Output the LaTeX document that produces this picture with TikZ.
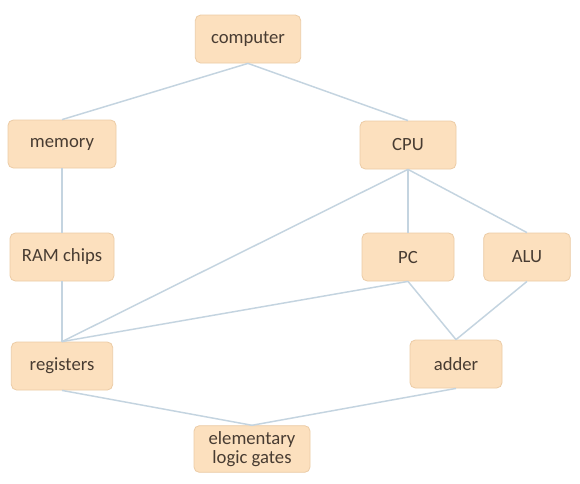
\documentclass[tikz,border=0pt]{standalone}
\usepackage{fontspec}
\setmainfont{Carlito}
\definecolor{boxfill}{RGB}{252,224,190}
\definecolor{boxline}{RGB}{236,204,166}
\definecolor{linkline}{RGB}{196,212,224}
\definecolor{boxtext}{RGB}{72,60,50}
\begin{document}
\begin{tikzpicture}[x=0.75pt,y=-0.75pt,
  part/.style={draw=boxline,fill=boxfill,rounded corners=4pt,line width=0.6pt,
    minimum height=36pt,inner sep=2pt,text=boxtext,align=center,
    font=\fontsize{14}{14.5}\selectfont},
  link/.style={linkline,line width=1.1pt}]
\useasboundingbox[fill=white] (0,0) rectangle (580,483);

\node[part,minimum width=79pt] (computer) at (248,39) {computer};
\node[part,minimum width=81pt] (memory) at (62,144) {memory};
\node[part,minimum width=72pt] (cpu) at (408,145) {CPU};
\node[part,minimum width=78pt] (ram) at (62,257) {RAM chips};
\node[part,minimum width=69pt] (pc) at (408,257) {PC};
\node[part,minimum width=65pt] (alu) at (527,257) {ALU};
\node[part,minimum width=76pt] (registers) at (62,366) {registers};
\node[part,minimum width=69pt] (adder) at (456,364) {adder};
\node[part,minimum width=87pt,minimum height=35pt] (gates) at (252,449) {elementary\\logic gates};

\draw[link] (computer.south) -- (memory.north);
\draw[link] (computer.south) -- (cpu.north);
\draw[link] (memory.south) -- (ram.north);
\draw[link] (ram.south) -- (registers.north);
\draw[link] (cpu.south) -- (registers.north);
\draw[link] (cpu.south) -- (pc.north);
\draw[link] (cpu.south) -- (alu.north);
\draw[link] (pc.south) -- (registers.north);
\draw[link] (pc.south) -- (adder.north);
\draw[link] (alu.south) -- (adder.north);
\draw[link] (registers.south) -- (gates.north);
\draw[link] (adder.south) -- (gates.north);
\end{tikzpicture}
\end{document}
